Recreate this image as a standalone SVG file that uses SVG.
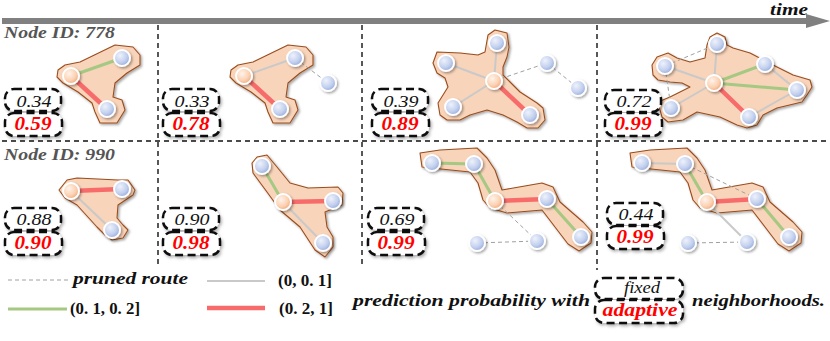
<svg xmlns="http://www.w3.org/2000/svg" width="830" height="341" viewBox="0 0 830 341">
<defs>
<radialGradient id="gBlue" cx="0.38" cy="0.35" r="0.7">
<stop offset="0" stop-color="#eef2fb"/><stop offset="0.6" stop-color="#c3d0ee"/><stop offset="1" stop-color="#93a9dc"/>
</radialGradient>
<radialGradient id="gOrange" cx="0.38" cy="0.35" r="0.7">
<stop offset="0" stop-color="#fff3ea"/><stop offset="0.6" stop-color="#fbd2b4"/><stop offset="1" stop-color="#f0a777"/>
</radialGradient>
<filter id="sh" x="-30%" y="-30%" width="160%" height="160%">
<feDropShadow dx="1.5" dy="1.5" stdDeviation="1.2" flood-color="#000" flood-opacity="0.35"/>
</filter>
<filter id="shb" x="-20%" y="-20%" width="140%" height="140%">
<feDropShadow dx="1.5" dy="2" stdDeviation="1.5" flood-color="#000" flood-opacity="0.3"/>
</filter>
</defs>
<style>
.blob{fill:#f8d4ba;stroke:#9a4d1d;stroke-width:1.1;stroke-linejoin:round}
.nb{fill:url(#gBlue);stroke:#fff;stroke-width:2}
.no{fill:url(#gOrange);stroke:#fff;stroke-width:2}
.eg{stroke:#c9c9c9;stroke-width:2;fill:none}
.egr{stroke:#a5c882;stroke-width:3;fill:none}
.er{stroke:#f76b6b;stroke-width:4.5;fill:none}
.ed{stroke:#a0a0a0;stroke-width:1;stroke-dasharray:4,3;fill:none}
.sep{stroke:#111;stroke-width:1.4;stroke-dasharray:5,4;fill:none}
.box{fill:#fff;stroke:#111;stroke-width:2.5;stroke-dasharray:8,4.5}
.lab{font-family:"Liberation Serif",serif;font-style:italic;font-weight:bold;font-size:17px;fill:#111}
.nid{font-family:"Liberation Serif",serif;font-style:italic;font-weight:bold;font-size:17px;fill:#555}
.top{font-family:"Liberation Serif",serif;font-style:italic;font-size:16px;fill:#111;text-anchor:middle}
.bot{font-family:"Liberation Serif",serif;font-style:italic;font-weight:bold;font-size:18px;fill:#ff0000;text-anchor:middle}
.math{font-family:"Liberation Serif",serif;font-weight:bold;font-size:16px;fill:#111}
</style>

<g id="timeline">
<rect x="2" y="18" width="808" height="6" fill="#808080"/>
<polygon points="806,14 830,21 806,28" fill="#808080"/>
<text class="lab" x="770" y="15" textLength="38" lengthAdjust="spacingAndGlyphs">time</text>
</g>

<g id="grid">
<line class="sep" x1="158" y1="25" x2="158" y2="268"/>
<line class="sep" x1="362" y1="25" x2="362" y2="268"/>
<line class="sep" x1="597" y1="25" x2="597" y2="270"/>
<line class="sep" x1="2" y1="141" x2="830" y2="141"/>
</g>

<text class="nid" x="4" y="38" textLength="111" lengthAdjust="spacingAndGlyphs">Node ID: 778</text>
<text class="nid" x="4" y="160" textLength="111" lengthAdjust="spacingAndGlyphs">Node ID: 990</text>

<g id="neighborhoods" filter="url(#sh)">
<polygon id="blob1" class="blob" points="58,70 65,65 80,62 115,45 133,47 140,55 140,65 127,73 115,83 113,97 122,100 125,110 117,123 100,123 95,112 92,103 78,92 63,83 57,77"/>
<polygon id="blob2" class="blob" transform="translate(173,0)" points="58,70 65,65 80,62 115,45 133,47 140,55 140,65 127,73 115,83 113,97 122,100 125,110 117,123 100,123 95,112 92,103 78,92 63,83 57,77"/>
<polygon id="blob3" class="blob" points="437,52 460,53 478,55 485,52 488,35 495,30 507,33 509,47 507,57 503,67 503,75 520,92 537,103 543,108 545,120 538,128 527,128 517,122 503,115 487,110 470,115 460,120 447,120 440,115 438,103 443,95 448,87 445,78 437,73 433,63"/>
<polygon id="blob4" class="blob" points="652,65 657,57 668,53 677,58 690,62 705,58 707,45 710,37 717,33 725,37 727,45 733,48 750,53 773,65 793,75 810,80 812,87 807,95 802,102 777,108 763,115 757,125 747,128 737,125 720,117 697,112 683,120 668,122 662,117 660,110 658,102 670,97 680,92 690,87 682,83 670,82 658,80 653,75"/>
<polygon id="blob5" class="blob" points="59,190 67,180 77,178 118,180 128,180 135,190 133,195 118,205 117,218 123,225 128,230 123,238 112,240 105,235 97,227 77,205 65,198"/>
<polygon id="blob6" class="blob" points="252,163 257,157 267,155 277,167 290,183 308,188 338,187 343,193 342,205 325,212 327,227 333,237 333,247 325,257 315,250 300,227 280,210 267,192 253,173"/>
<polygon id="blob7" class="blob" points="420,153 440,150 477,148 487,158 495,170 502,190 542,183 553,187 560,202 583,222 592,232 591,243 579,251 568,244 542,210 507,213 490,208 483,200 478,183 470,172 422,167"/>
<polygon id="blob8" class="blob" transform="translate(210,0)" points="420,153 440,150 477,148 487,158 495,170 502,190 542,183 553,187 560,202 583,222 592,232 591,243 579,251 568,244 542,210 507,213 490,208 483,200 478,183 470,172 422,167"/>
</g>

<g id="connectors">
<line class="egr" x1="71" y1="76" x2="122" y2="58"/>
<line class="er" x1="71" y1="76" x2="107" y2="109"/>

<line class="eg" x1="244" y1="76" x2="295" y2="58"/>
<line class="er" x1="244" y1="76" x2="280" y2="109"/>
<line class="ed" x1="295" y1="58" x2="328" y2="83"/>

<line class="eg" x1="494" y1="81" x2="497" y2="43"/>
<line class="eg" x1="494" y1="81" x2="446" y2="63"/>
<line class="eg" x1="494" y1="81" x2="453" y2="107"/>
<line class="er" x1="494" y1="81" x2="530" y2="115"/>
<line class="ed" x1="494" y1="81" x2="547" y2="63"/>
<line class="ed" x1="547" y1="63" x2="578" y2="88"/>

<line class="eg" x1="714" y1="83" x2="717" y2="44"/>
<line class="eg" x1="714" y1="83" x2="665" y2="66"/>
<line class="eg" x1="714" y1="83" x2="671" y2="108"/>
<line class="eg" x1="765" y1="64" x2="797" y2="90"/>
<line class="eg" x1="749" y1="117" x2="797" y2="90"/>
<line class="egr" x1="714" y1="83" x2="765" y2="64"/>
<line class="egr" x1="714" y1="83" x2="797" y2="90"/>
<line class="er" x1="714" y1="83" x2="749" y2="117"/>
<line class="ed" x1="665" y1="66" x2="717" y2="44"/>
<line class="ed" x1="665" y1="66" x2="671" y2="108"/>

<line class="er" x1="71" y1="191" x2="122" y2="189"/>
<line class="eg" x1="71" y1="191" x2="112" y2="230"/>

<line class="egr" x1="262" y1="166" x2="283" y2="202"/>
<line class="er" x1="283" y1="202" x2="333" y2="201"/>
<line class="eg" x1="283" y1="202" x2="323" y2="243"/>

<line class="egr" x1="432" y1="163" x2="474" y2="164"/>
<line class="egr" x1="474" y1="164" x2="495" y2="201"/>
<line class="er" x1="495" y1="201" x2="547" y2="199"/>
<line class="egr" x1="547" y1="199" x2="581" y2="237"/>
<line class="ed" x1="495" y1="201" x2="537" y2="241"/>
<line class="ed" x1="477" y1="243" x2="537" y2="241"/>

<line class="eg" x1="642" y1="163" x2="685" y2="164"/>
<line class="egr" x1="685" y1="164" x2="707" y2="202"/>
<line class="er" x1="707" y1="202" x2="757" y2="199"/>
<line class="egr" x1="757" y1="199" x2="789" y2="237"/>
<line class="eg" x1="707" y1="202" x2="747" y2="242"/>
<line class="ed" x1="688" y1="243" x2="747" y2="242"/>
<line class="ed" x1="685" y1="164" x2="757" y2="199"/>
</g>

<g id="nodes" filter="url(#sh)">
<g id="p1-center"><circle class="no" cx="71" cy="76" r="8"/></g>
<g id="p1-n1"><circle class="nb" cx="122" cy="58" r="8"/></g>
<g id="p1-n2"><circle class="nb" cx="107" cy="109" r="8"/></g>

<g id="p2-center"><circle class="no" cx="244" cy="76" r="8"/></g>
<g id="p2-n1"><circle class="nb" cx="295" cy="58" r="8"/></g>
<g id="p2-n2"><circle class="nb" cx="280" cy="109" r="8"/></g>
<g id="p2-n3"><circle class="nb" cx="328" cy="83" r="8"/></g>

<g id="p3-center"><circle class="no" cx="494" cy="81" r="8"/></g>
<g id="p3-n1"><circle class="nb" cx="497" cy="43" r="8"/></g>
<g id="p3-n2"><circle class="nb" cx="446" cy="63" r="8"/></g>
<g id="p3-n3"><circle class="nb" cx="453" cy="107" r="8"/></g>
<g id="p3-n4"><circle class="nb" cx="530" cy="115" r="8"/></g>
<g id="p3-n5"><circle class="nb" cx="547" cy="63" r="8"/></g>
<g id="p3-n6"><circle class="nb" cx="578" cy="88" r="8"/></g>

<g id="p4-center"><circle class="no" cx="714" cy="83" r="8"/></g>
<g id="p4-n1"><circle class="nb" cx="717" cy="44" r="8"/></g>
<g id="p4-n2"><circle class="nb" cx="665" cy="66" r="8"/></g>
<g id="p4-n3"><circle class="nb" cx="671" cy="108" r="8"/></g>
<g id="p4-n4"><circle class="nb" cx="749" cy="117" r="8"/></g>
<g id="p4-n5"><circle class="nb" cx="797" cy="90" r="8"/></g>
<g id="p4-n6"><circle class="nb" cx="765" cy="64" r="8"/></g>

<g id="p5-center"><circle class="no" cx="71" cy="191" r="8"/></g>
<g id="p5-n1"><circle class="nb" cx="122" cy="189" r="8"/></g>
<g id="p5-n2"><circle class="nb" cx="112" cy="230" r="8"/></g>

<g id="p6-center"><circle class="no" cx="283" cy="202" r="8"/></g>
<g id="p6-n1"><circle class="nb" cx="262" cy="166" r="8"/></g>
<g id="p6-n2"><circle class="nb" cx="333" cy="201" r="8"/></g>
<g id="p6-n3"><circle class="nb" cx="323" cy="243" r="8"/></g>

<g id="p7-center"><circle class="no" cx="495" cy="201" r="8"/></g>
<g id="p7-n1"><circle class="nb" cx="432" cy="163" r="8"/></g>
<g id="p7-n2"><circle class="nb" cx="474" cy="164" r="8"/></g>
<g id="p7-n3"><circle class="nb" cx="547" cy="199" r="8"/></g>
<g id="p7-n4"><circle class="nb" cx="581" cy="237" r="8"/></g>
<g id="p7-n5"><circle class="nb" cx="477" cy="243" r="8"/></g>
<g id="p7-n6"><circle class="nb" cx="537" cy="241" r="8"/></g>

<g id="p8-center"><circle class="no" cx="707" cy="202" r="8"/></g>
<g id="p8-n1"><circle class="nb" cx="642" cy="163" r="8"/></g>
<g id="p8-n2"><circle class="nb" cx="685" cy="164" r="8"/></g>
<g id="p8-n3"><circle class="nb" cx="757" cy="199" r="8"/></g>
<g id="p8-n4"><circle class="nb" cx="789" cy="237" r="8"/></g>
<g id="p8-n5"><circle class="nb" cx="688" cy="243" r="8"/></g>
<g id="p8-n6"><circle class="nb" cx="747" cy="242" r="8"/></g>
</g>

<g id="scores">
<g id="score1"><g filter="url(#shb)"><rect class="box" x="5" y="89" width="56" height="22" rx="9"/><rect class="box" x="5" y="113" width="57" height="23" rx="9"/></g>
<text class="top" x="34" y="107" textLength="35" lengthAdjust="spacingAndGlyphs">0.34</text><text class="bot" x="33" y="130" textLength="37" lengthAdjust="spacingAndGlyphs">0.59</text></g>
<g id="score2"><g filter="url(#shb)"><rect class="box" x="163" y="89" width="56" height="22" rx="9"/><rect class="box" x="163" y="113" width="57" height="23" rx="9"/></g>
<text class="top" x="192" y="107" textLength="35" lengthAdjust="spacingAndGlyphs">0.33</text><text class="bot" x="191" y="130" textLength="37" lengthAdjust="spacingAndGlyphs">0.78</text></g>
<g id="score3"><g filter="url(#shb)"><rect class="box" x="372" y="89" width="56" height="22" rx="9"/><rect class="box" x="372" y="113" width="57" height="23" rx="9"/></g>
<text class="top" x="401" y="107" textLength="35" lengthAdjust="spacingAndGlyphs">0.39</text><text class="bot" x="400" y="130" textLength="37" lengthAdjust="spacingAndGlyphs">0.89</text></g>
<g id="score4"><g filter="url(#shb)"><rect class="box" x="605" y="90" width="56" height="22" rx="9"/><rect class="box" x="605" y="113" width="57" height="23" rx="9"/></g>
<text class="top" x="634" y="107" textLength="35" lengthAdjust="spacingAndGlyphs">0.72</text><text class="bot" x="633" y="130" textLength="37" lengthAdjust="spacingAndGlyphs">0.99</text></g>

<g id="score5"><g filter="url(#shb)"><rect class="box" x="5" y="208" width="56" height="22" rx="9"/><rect class="box" x="5" y="232" width="57" height="23" rx="9"/></g>
<text class="top" x="34" y="225" textLength="35" lengthAdjust="spacingAndGlyphs">0.88</text><text class="bot" x="33" y="249" textLength="37" lengthAdjust="spacingAndGlyphs">0.90</text></g>
<g id="score6"><g filter="url(#shb)"><rect class="box" x="163" y="208" width="56" height="22" rx="9"/><rect class="box" x="163" y="232" width="57" height="23" rx="9"/></g>
<text class="top" x="192" y="225" textLength="35" lengthAdjust="spacingAndGlyphs">0.90</text><text class="bot" x="191" y="249" textLength="37" lengthAdjust="spacingAndGlyphs">0.98</text></g>
<g id="score7"><g filter="url(#shb)"><rect class="box" x="368" y="208" width="56" height="22" rx="9"/><rect class="box" x="368" y="232" width="57" height="23" rx="9"/></g>
<text class="top" x="397" y="225" textLength="35" lengthAdjust="spacingAndGlyphs">0.69</text><text class="bot" x="396" y="249" textLength="37" lengthAdjust="spacingAndGlyphs">0.99</text></g>
<g id="score8"><g filter="url(#shb)"><rect class="box" x="607" y="203" width="56" height="22" rx="9"/><rect class="box" x="607" y="226" width="57" height="23" rx="9"/></g>
<text class="top" x="636" y="220" textLength="35" lengthAdjust="spacingAndGlyphs">0.44</text><text class="bot" x="635" y="243" textLength="37" lengthAdjust="spacingAndGlyphs">0.99</text></g>
</g>

<g id="legend">
<line class="ed" x1="8" y1="280" x2="68" y2="280"/>
<text class="lab" x="73" y="284" textLength="115" lengthAdjust="spacingAndGlyphs">pruned route</text>
<line class="eg" x1="207" y1="281" x2="265" y2="281"/>
<text class="math" x="278" y="286" textLength="54" lengthAdjust="spacingAndGlyphs">(0, 0. 1]</text>
<line class="egr" x1="8" y1="309" x2="67" y2="309"/>
<text class="math" x="70" y="314" textLength="70" lengthAdjust="spacingAndGlyphs">(0. 1, 0. 2]</text>
<line class="er" x1="207" y1="308" x2="265" y2="308"/>
<text class="math" x="279" y="314" textLength="54" lengthAdjust="spacingAndGlyphs">(0. 2, 1]</text>
</g>

<g id="caption">
<text class="lab" x="353" y="306" textLength="237" lengthAdjust="spacingAndGlyphs">prediction probability with</text>
<g filter="url(#shb)"><rect class="box" x="595" y="278" width="88" height="21" rx="9"/><rect class="box" x="595" y="300" width="88" height="23" rx="9"/></g>
<text class="top" x="642" y="293" textLength="36" lengthAdjust="spacingAndGlyphs">fixed</text>
<text class="bot" x="640" y="316" textLength="75" lengthAdjust="spacingAndGlyphs">adaptive</text>
<text class="lab" x="692" y="306" textLength="133" lengthAdjust="spacingAndGlyphs">neighborhoods.</text>
</g>
</svg>
